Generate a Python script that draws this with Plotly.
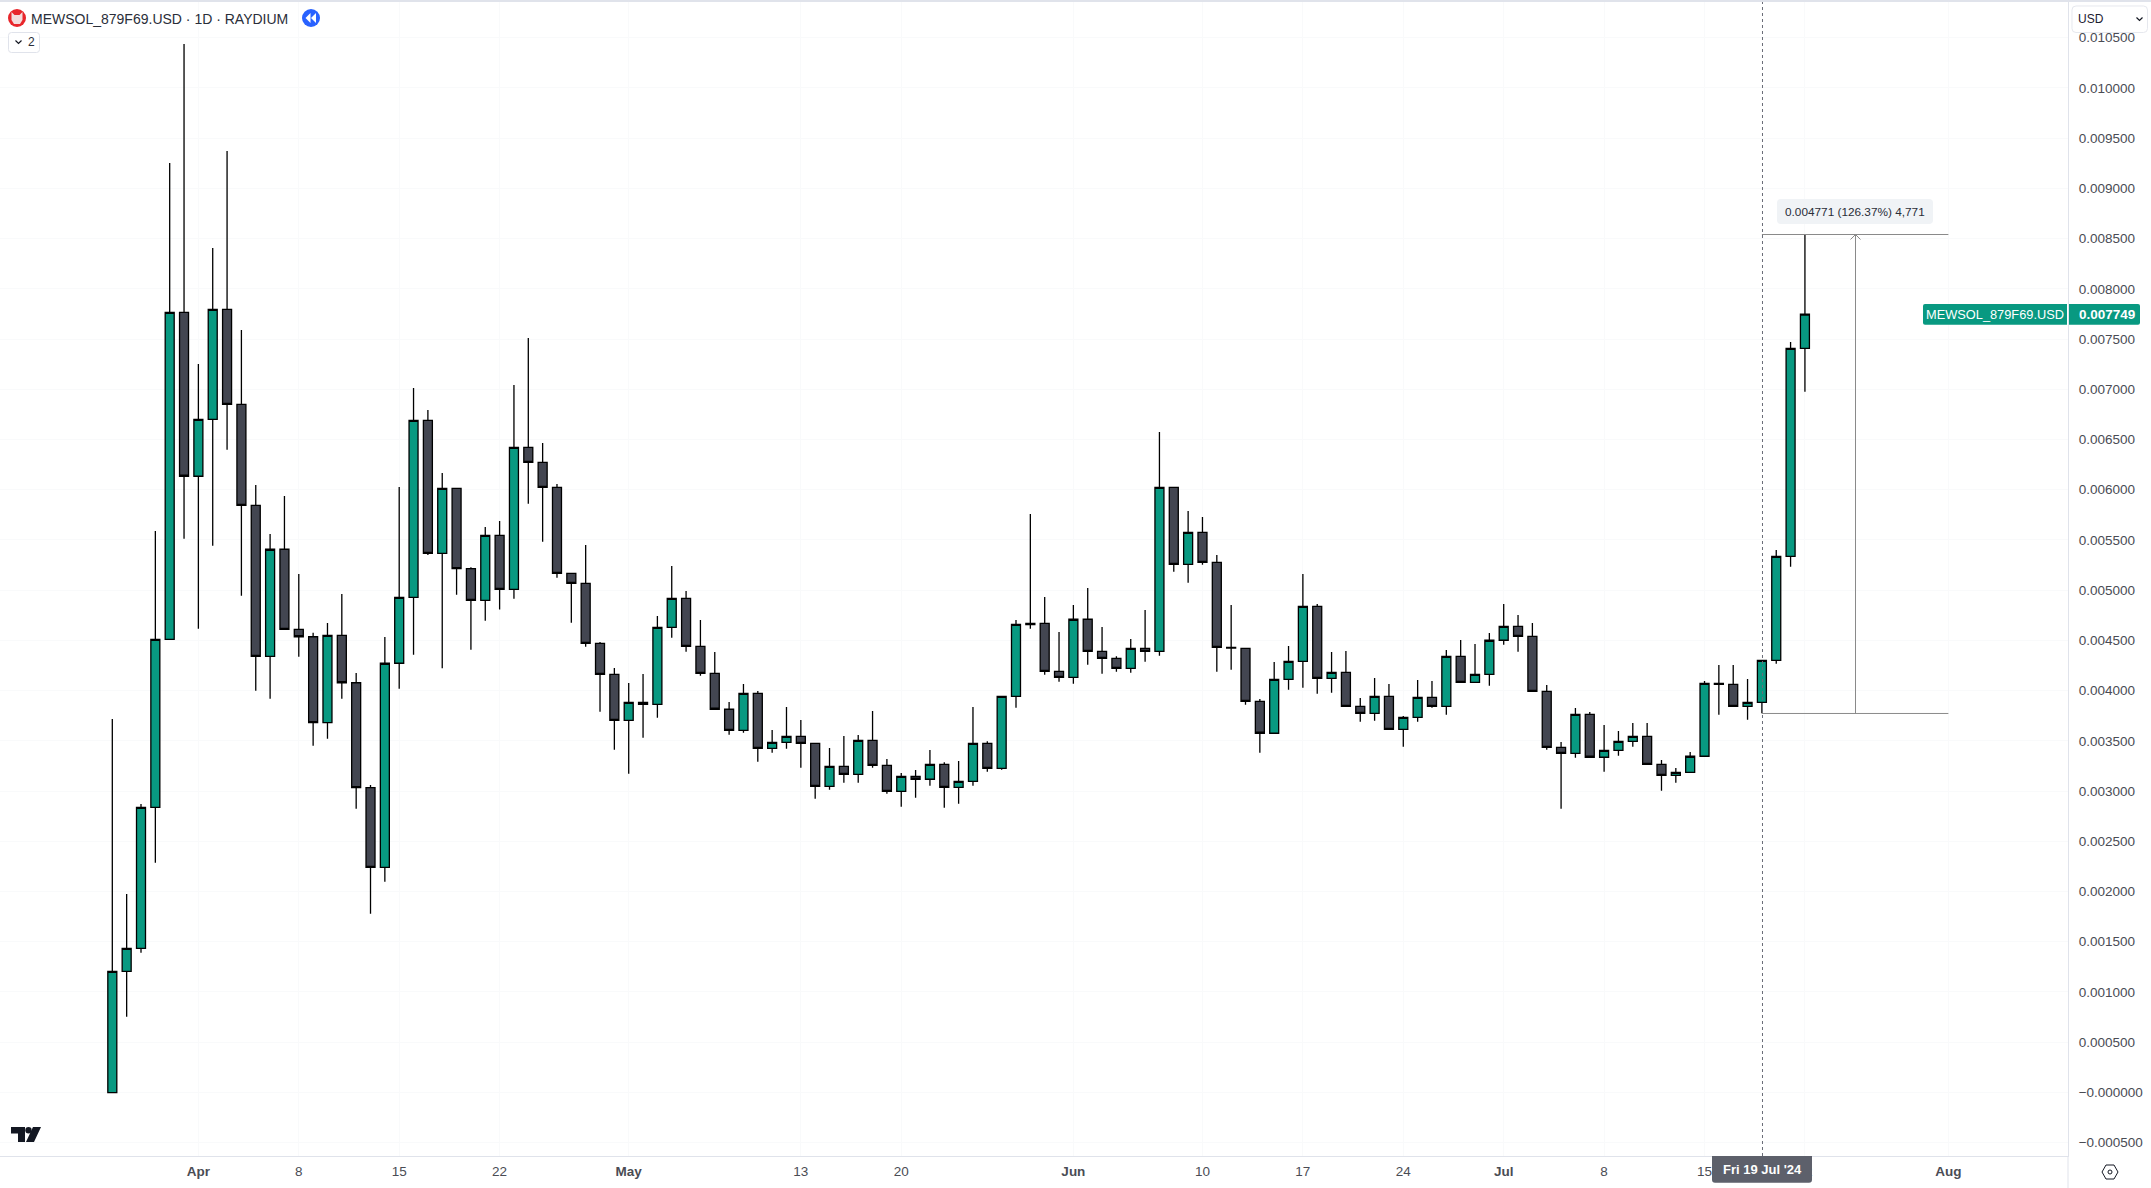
import pandas as pd
import numpy as np
import plotly.graph_objects as go

first_date = "2024-03-26"
symbol = "MEWSOL_879F69.USD"
title_text = "MEWSOL_879F69.USD · 1D · RAYDIUM"

# OHLC, in millionths of a USD
opens_micro = [
    -3,1205,1434,2838,4510,7766,6134,6701,7796,6850,
    5845,4341,5407,4610,4536,3680,4550,4078,3033,2240,
    4272,4929,6691,5367,6014,5215,4899,5546,5008,6422,
    6273,6024,5168,5068,4471,4162,3704,3883,3863,4630,
    4919,4441,4172,3814,3604,3973,3425,3485,3545,3475,
    3047,3246,3166,3505,3256,2997,3146,3117,3266,3037,
    3097,3475,3226,3943,4670,4670,4192,4132,4710,4391,
    4321,4222,4421,4391,6024,5257,5576,5277,4431,4421,
    3893,3575,4112,4291,4839,4122,4182,3843,3774,3943,
    3614,3734,3933,3843,4341,4082,4162,4501,4640,4540,
    3993,3435,3375,3764,3336,3405,3495,3545,3266,3156,
    3186,3346,4072,4062,3843,3883,4301,5337,7408]
highs_micro = [
    3717,1975,2871,5589,9253,10438,7252,8407,9373,7590,
    6047,5559,5937,5161,4576,4673,4962,4175,3060,4533,
    6027,7013,6794,6166,6014,5227,5629,5688,7043,7511,
    6465,6057,5168,5450,4484,4225,4075,4165,4743,5240,
    4991,4703,4384,3886,4065,3996,3607,3836,3707,3475,
    3428,3548,3558,3797,3319,3179,3209,3408,3286,3299,
    3836,3495,3943,4703,5758,4932,4583,4852,5021,4633,
    4341,4514,4802,6575,6024,5788,5728,5350,4852,4421,
    3916,4285,4444,5161,4862,4384,4394,3926,4125,4065,
    3747,4105,4095,4404,4504,4464,4573,4862,4752,4673,
    4055,3488,3826,3787,3657,3597,3677,3677,3309,3229,
    3388,4095,4255,4255,4115,4301,5400,7471,8539]
lows_micro = [
    -3,753,1390,2286,4510,5512,4616,5443,6398,4945,
    3999,3919,4610,4337,3451,3521,3919,2824,1778,2097,
    4019,4357,5350,4222,4955,4407,4696,4807,4915,5861,
    5482,5124,4676,4437,3790,3411,3172,3531,3730,4526,
    4387,4148,3814,3561,3581,3292,3381,3421,3232,2923,
    3013,3083,3083,3232,2973,2844,2933,3053,2834,2874,
    3053,3192,3212,3830,4616,4158,4088,4068,4258,4168,
    4188,4178,4287,4347,5184,5074,5253,4188,4208,3859,
    3381,3575,4009,4029,3969,3979,3843,3690,3700,3614,
    3441,3690,3829,3760,4082,4082,4048,4457,4387,3993,
    3411,2824,3332,3336,3192,3352,3441,3266,3003,3083,
    3186,3346,3760,3843,3710,3774,4268,5233,6976]
closes_micro = [
    1205,1434,2838,4510,7766,6134,6701,7796,6850,5845,
    4341,5407,4610,4536,3680,4550,4078,3033,2240,4272,
    4929,6691,5367,6014,5215,4899,5546,5008,6422,6273,
    6024,5168,5068,4471,4162,3704,3883,3863,4630,4919,
    4441,4172,3814,3604,3973,3425,3485,3545,3475,3047,
    3246,3166,3505,3256,2997,3146,3117,3266,3037,3097,
    3475,3226,3943,4660,4656,4192,4132,4710,4391,4321,
    4222,4421,4391,6024,5257,5576,5277,4431,4424,3893,
    3575,4112,4291,4839,4122,4182,3843,3774,3943,3614,
    3734,3933,3843,4341,4082,4162,4501,4640,4540,3993,
    3435,3375,3764,3336,3405,3495,3545,3266,3156,3186,
    3346,4072,4062,3843,3883,4301,5337,7408,7749]

price_ticks = [-0.0005,0.0,0.0005,0.001,0.0015,0.002,0.0025,0.003,0.0035,0.004,0.0045,
               0.005,0.0055,0.006,0.0065,0.007,0.0075,0.008,0.0085,0.009,0.0095,0.01,0.0105]
price_labels = ["−0.000500","−0.000000","0.000500","0.001000","0.001500","0.002000","0.002500",
                "0.003000","0.003500","0.004000","0.004500","0.005000","0.005500","0.006000",
                "0.006500","0.007000","0.007500","0.008000","0.008500","0.009000","0.009500",
                "0.010000","0.010500"]
date_ticks = ["2024-04-01","2024-04-08","2024-04-15","2024-04-22","2024-05-01","2024-05-13",
              "2024-05-20","2024-06-01","2024-06-10","2024-06-17","2024-06-24","2024-07-01",
              "2024-07-08","2024-07-15","2024-07-22","2024-08-01"]
date_labels = ["<b>Apr</b>","8","15","22","<b>May</b>","13","20","<b>Jun</b>","10","17","24",
               "<b>Jul</b>","8","15","22","<b>Aug</b>"]

cursor_time = "2024-07-19 01:00"
measure_start = "2024-07-19"
measure_end = "2024-08-01"
measure_mid = "2024-07-25 12:38"
measure_low = 0.003772
measure_high = 0.008541
measure_text = "0.004771 (126.37%) 4,771"
cursor_text = "Fri 19 Jul '24"
last_price = "0.007749"

UP, DOWN, WICK = "#089981", "#434651", "#000000"
GRID = "#f9fafb"; BORDER = "#e0e3eb"; TEXT = "#4a4c54"; DARK = "#131722"; MEAS = "#8a8a8a"
FONT = "Liberation Sans"

W, H = 2151, 1188
AX_R, AX_B = 2068.0, 1156.0
def PX(x): return x / AX_R
def PY(y): return (AX_B - y) / (AX_B - 2)
def pt(x, y): return f"{PX(x):.6f},{PY(y):.6f}"
def poly(points): return "M" + " L".join(pt(*p) for p in points) + " Z"
def line_path(points): return "M" + " L".join(pt(*p) for p in points)
def rrect(x0, y0, x1, y1, r, tl=True, tr=True, br=True, bl=True):
    a = r if tl else 0; b = r if tr else 0; c = r if br else 0; d = r if bl else 0
    return (f"M{pt(x0+a,y0)} L{pt(x1-b,y0)} Q{pt(x1,y0)} {pt(x1,y0+b)} L{pt(x1,y1-c)} "
            f"Q{pt(x1,y1)} {pt(x1-c,y1)} L{pt(x0+d,y1)} Q{pt(x0,y1)} {pt(x0,y1-d)} "
            f"L{pt(x0,y0+a)} Q{pt(x0,y0)} {pt(x0+a,y0)} Z")
def pshape(path, fill=None, line=None, width=1):
    return dict(type="path", xref="paper", yref="paper", path=path, layer="above",
                fillcolor=fill or "rgba(0,0,0,0)",
                line=dict(color=line or "rgba(0,0,0,0)", width=width if line else 0))
def circle(cx, cy, r, fill=None, line=None, width=1):
    return dict(type="circle", xref="paper", yref="paper", layer="above",
                x0=PX(cx-r), x1=PX(cx+r), y0=PY(cy+r), y1=PY(cy-r),
                fillcolor=fill or "rgba(0,0,0,0)",
                line=dict(color=line or "rgba(0,0,0,0)", width=width if line else 0))
def note(x, y, text, size=13, color=DARK, anchor="center", family=FONT):
    return dict(xref="paper", yref="paper", x=PX(x), y=PY(y), text=text, showarrow=False,
                xanchor=anchor, yanchor="middle", font=dict(family=family, size=size, color=color))

dates = pd.date_range(first_date, periods=len(closes_micro), freq="D")
scale = 1e-6
fig = go.Figure(go.Candlestick(
    x=dates,
    open=np.array(opens_micro) * scale, high=np.array(highs_micro) * scale,
    low=np.array(lows_micro) * scale, close=np.array(closes_micro) * scale,
    increasing=dict(fillcolor=UP, line=dict(color=WICK, width=1.3)),
    decreasing=dict(fillcolor=DOWN, line=dict(color=WICK, width=1.3)),
    whiskerwidth=0, showlegend=False, hoverinfo="skip",
))

shapes = [
    # cursor + measure tool
    dict(type="line", xref="x", yref="paper", x0=cursor_time, x1=cursor_time, y0=0, y1=1,
         line=dict(color="#6a6d78", width=1, dash="dot"), layer="above"),
    dict(type="line", xref="x", yref="y", x0=measure_start, x1=measure_end, y0=measure_low, y1=measure_low,
         line=dict(color=MEAS, width=1), layer="above"),
    dict(type="line", xref="x", yref="y", x0=measure_start, x1=measure_end, y0=measure_high, y1=measure_high,
         line=dict(color=MEAS, width=1), layer="above"),
    dict(type="line", xref="x", yref="y", x0=measure_mid, x1=measure_mid, y0=measure_low, y1=measure_high,
         line=dict(color=MEAS, width=1), layer="above"),
    dict(type="line", xref="x", yref="y", xsizemode="pixel", ysizemode="pixel", xanchor=measure_mid,
         yanchor=measure_high, x0=-5, x1=0, y0=-5, y1=0, line=dict(color=MEAS, width=1), layer="above"),
    dict(type="line", xref="x", yref="y", xsizemode="pixel", ysizemode="pixel", xanchor=measure_mid,
         yanchor=measure_high, x0=5, x1=0, y0=-5, y1=0, line=dict(color=MEAS, width=1), layer="above"),
    pshape(rrect(1777, 199, 1933, 224, 4), fill="#f0f3f6"),
    # frame
    pshape(poly([(0, 0), (W, 0), (W, 2), (0, 2)]), fill=BORDER),
    pshape(line_path([(AX_R, 1156), (AX_R, 1188)]), line=BORDER, width=1),
    # last price labels
    pshape(rrect(1923, 304, 2067, 324.7, 2, tr=False, br=False), fill=UP),
    pshape(rrect(2069, 304, 2140, 324.7, 2, tl=False, bl=False), fill=UP),
    # cursor date label
    pshape(rrect(1712, 1156, 1812, 1182.7, 3, tl=False, tr=False), fill="#5d606b"),
    # currency box
    pshape(rrect(2072, 6, 2147.5, 32.5, 4), fill="#ffffff", line="#e6e8ee", width=1),
    pshape(line_path([(2136.5, 17.5), (2139.5, 20.5), (2142.5, 17.5)]), line=DARK, width=1.2),
    # legend icons
    circle(17, 18, 9, fill="#e8262b"),
    pshape(poly([(11.5, 12), (14.5, 15), (19.5, 15), (22.5, 12), (22.5, 20), (20, 24), (14, 24), (11.5, 20)]), fill="#f3dcdc"),
    circle(311, 18, 9, fill="#2962ff"),
    pshape(poly([(310.5, 13), (310.5, 23), (305.5, 18)]), fill="#ffffff"),
    pshape(poly([(316, 13), (316, 23), (311, 18)]), fill="#ffffff"),
    pshape(rrect(8.5, 32.5, 39.5, 52.5, 3), fill="#ffffff", line=BORDER, width=1),
    pshape(line_path([(15.5, 40.5), (18.5, 43.5), (21.5, 40.5)]), line=DARK, width=1.2),
    # TradingView mark
    pshape(poly([(11, 1127), (25, 1127), (25, 1142), (18, 1142), (18, 1133.5), (11, 1133.5)]), fill=DARK),
    circle(28.5, 1130.3, 3.2, fill=DARK),
    pshape(poly([(33, 1127), (41, 1127), (34, 1142), (26, 1142)]), fill=DARK),
    # settings icon
    pshape(poly([(2102, 1172), (2106, 1165), (2114, 1165), (2118, 1172), (2114, 1179), (2106, 1179)]), line=DARK, width=1),
    circle(2110, 1172, 2, line=DARK, width=1),
]

annotations = [
    note(28.5, 19, title_text, size=14, color="#2a2e39", anchor="left"),
    note(31, 42, "2", size=12, color="#2a2e39"),
    note(1855, 211.5, measure_text, size=11.8, color="#2a2e39"),
    note(1995, 314, symbol, size=12.8, color="#ffffff"),
    note(2106.5, 314.5, f"<b>{last_price}</b>", size=13.5, color="#ffffff"),
    note(1762, 1170, f"<b>{cursor_text}</b>", size=13, color="#ffffff"),
    note(2076, 19, "USD", size=12, color="#1c2030", anchor="left"),
]

origin = pd.Timestamp("2024-04-01")
fig.update_layout(
    width=W, height=H, margin=dict(l=0, r=W - int(AX_R), t=2, b=H - int(AX_B), pad=0, autoexpand=False),
    paper_bgcolor="#ffffff", plot_bgcolor="#ffffff", boxgap=0.373, boxgroupgap=0, showlegend=False,
    font=dict(family=FONT, size=13.5, color=TEXT), dragmode=False,
    shapes=shapes, annotations=annotations,
    xaxis=dict(
        type="date", range=[origin + pd.Timedelta(days=-13.83), origin + pd.Timedelta(days=130.34)],
        tickmode="array", tickvals=date_ticks, ticktext=date_labels, tickangle=0,
        showgrid=True, gridcolor=GRID, gridwidth=1, zeroline=False, ticks="",
        showline=True, linecolor=BORDER, linewidth=1, rangeslider=dict(visible=False),
        tickfont=dict(family=FONT, size=13.5, color=TEXT), ticklabelstandoff=3, automargin=False,
    ),
    yaxis=dict(
        side="right", range=[-0.000634, 0.010856], tickmode="array",
        tickvals=price_ticks, ticktext=price_labels, showgrid=True, gridcolor=GRID, gridwidth=1,
        zeroline=False, ticks="", showline=True, linecolor=BORDER, linewidth=1,
        tickfont=dict(family=FONT, size=13.5, color=TEXT), ticklabelstandoff=7, automargin=False,
    ),
)

fig.write_html("out.html", config=dict(displayModeBar=False, responsive=False),
               post_script="document.body.style.margin='0';document.body.style.overflow='hidden';")
